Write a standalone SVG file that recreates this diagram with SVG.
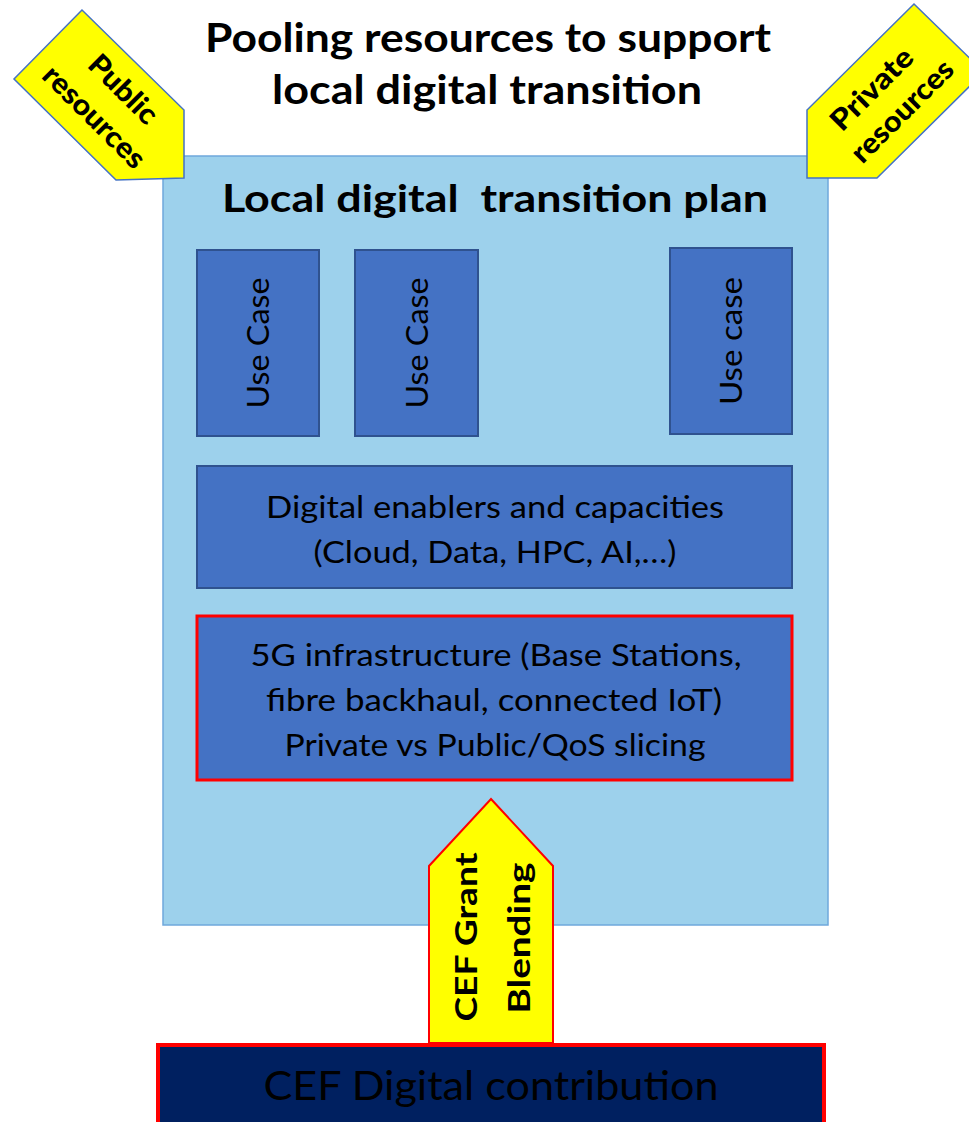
<svg xmlns="http://www.w3.org/2000/svg" width="969" height="1122" viewBox="0 0 969 1122">
<style>
text{font-family:Lato,"Open Sans","Liberation Sans",sans-serif;fill:#000}
.b{font-weight:bold}
.uc{fill:#4472C4;stroke:#2F528F;stroke-width:2}
.yel{fill:#FFFF00;stroke:#4472C4;stroke-width:1.5}
.mid{text-anchor:middle}
.ar{font-weight:900;font-size:29px}
</style>
<rect width="969" height="1122" fill="#fff"/>
<g id="title">
<text class="b mid" x="488" y="52" font-size="40" textLength="566" lengthAdjust="spacingAndGlyphs">Pooling resources to support</text>
<text class="b mid" x="487" y="104" font-size="40" textLength="430" lengthAdjust="spacingAndGlyphs">local digital transition</text>
</g>
<g id="plan">
<rect x="163" y="156" width="665" height="769" fill="#9DD1EC" stroke="#6FA8DC" stroke-width="1.5"/>
<text class="b mid" x="495" y="212" font-size="38" style="white-space:pre" textLength="546" lengthAdjust="spacingAndGlyphs">Local digital  transition plan</text>
</g>
<g id="public">
<polygon class="yel" points="82,10 14,79 116,180 184,178 184,110"/>
<g transform="translate(107,104) rotate(45)">
<text class="ar mid" x="1" y="-12" textLength="85" lengthAdjust="spacingAndGlyphs">Public</text>
<text class="ar mid" x="0" y="28" textLength="132" lengthAdjust="spacingAndGlyphs">resources</text>
</g>
</g>
<g id="private">
<polygon class="yel" points="914,4 984,72 877,178 807,178 807,110"/>
<g transform="translate(888,101) rotate(-45)">
<text class="ar mid" x="-3" y="-10" textLength="104" lengthAdjust="spacingAndGlyphs">Private</text>
<text class="ar mid" x="3" y="27" textLength="132" lengthAdjust="spacingAndGlyphs">resources</text>
</g>
</g>
<g id="usecase1">
<rect class="uc" x="197" y="250" width="122" height="186"/>
<text class="mid" transform="translate(269,343) rotate(-90)" font-size="30" textLength="131" lengthAdjust="spacingAndGlyphs">Use Case</text>
</g>
<g id="usecase2">
<rect class="uc" x="355" y="250" width="123" height="186"/>
<text class="mid" transform="translate(428,343) rotate(-90)" font-size="30" textLength="131" lengthAdjust="spacingAndGlyphs">Use Case</text>
</g>
<g id="usecase3">
<rect class="uc" x="670" y="248" width="122" height="186"/>
<text class="mid" transform="translate(742,341) rotate(-90)" font-size="30" textLength="128" lengthAdjust="spacingAndGlyphs">Use case</text>
</g>
<g id="enablers">
<rect class="uc" x="197" y="466" width="595" height="122"/>
<text class="mid" x="495" y="518" font-size="30" textLength="458" lengthAdjust="spacingAndGlyphs">Digital enablers and capacities</text>
<text class="mid" x="495" y="563" font-size="30" textLength="363" lengthAdjust="spacingAndGlyphs">(Cloud, Data, HPC, AI,…)</text>
</g>
<g id="infra">
<rect x="197" y="616" width="595" height="164" fill="#4472C4" stroke="#FF0000" stroke-width="3"/>
<text class="mid" x="496" y="666" font-size="30" textLength="491" lengthAdjust="spacingAndGlyphs">5G infrastructure (Base Stations,</text>
<text class="mid" x="494" y="711" font-size="30" textLength="456" lengthAdjust="spacingAndGlyphs">fibre backhaul, connected IoT)</text>
<text class="mid" x="495" y="756" font-size="30" textLength="421" lengthAdjust="spacingAndGlyphs">Private vs Public/QoS slicing</text>
</g>
<g id="contribution">
<rect x="158" y="1045" width="666" height="90" fill="#002060" stroke="#FF0000" stroke-width="4"/>
<text class="mid" x="491" y="1100" font-size="40" textLength="455" lengthAdjust="spacingAndGlyphs">CEF Digital contribution</text>
</g>
<g id="connectors">
<g id="cef-arrow">
<polygon points="491,799 553,866 553,1043 429,1043 429,866" fill="#FFFF00" stroke="#FF0000" stroke-width="2"/>
<text class="b mid" transform="translate(477,937) rotate(-90)" font-size="31" textLength="169" lengthAdjust="spacingAndGlyphs">CEF Grant</text>
<text class="b mid" transform="translate(530,938) rotate(-90)" font-size="31" textLength="151" lengthAdjust="spacingAndGlyphs">Blending</text>
</g>
</g>
</svg>
